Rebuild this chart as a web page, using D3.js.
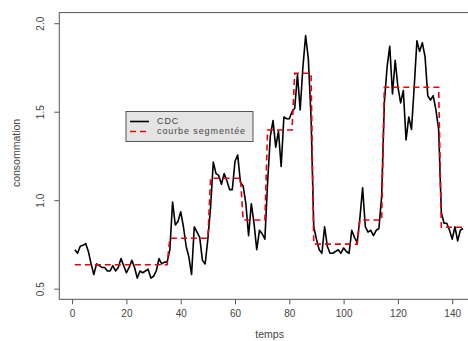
<!DOCTYPE html>
<html>
<head>
<meta charset="utf-8">
<script src="https://cdn.jsdelivr.net/npm/d3@7"></script>
<style>
  html, body { margin: 0; padding: 0; background: #fff; }
  svg { display: block; font-family: "Liberation Sans", Arial, sans-serif; }
</style>
</head>
<body>
<svg id="chart" width="468" height="341"></svg>
<script>
// consommation (CDC), one value per time step, t = 1..144
const cdc = [
  0.72, 0.70, 0.74, 0.745, 0.755, 0.71, 0.64, 0.58, 0.64, 0.63,
  0.62, 0.62, 0.60, 0.60, 0.63, 0.60, 0.62, 0.67, 0.63, 0.59,
  0.62, 0.66, 0.62, 0.56, 0.60, 0.59, 0.60, 0.61, 0.56, 0.57,
  0.60, 0.67, 0.64, 0.65, 0.65, 0.72, 0.99, 0.86, 0.88, 0.935,
  0.85, 0.74, 0.68, 0.58, 0.85, 0.82, 0.79, 0.66, 0.64, 0.78,
  0.96, 1.215, 1.15, 1.14, 1.09, 1.15, 1.11, 1.06, 1.06, 1.22,
  1.255, 1.10, 1.08, 0.98, 0.80, 0.98, 0.87, 0.72, 0.83, 0.81,
  0.78, 1.10, 1.36, 1.45, 1.30, 1.39, 1.19, 1.47, 1.46, 1.46,
  1.50, 1.52, 1.71, 1.51, 1.75, 1.93, 1.80, 1.47, 0.85, 0.78,
  0.72, 0.70, 0.85, 0.74, 0.70, 0.70, 0.71, 0.72, 0.70, 0.73,
  0.71, 0.70, 0.83, 0.79, 0.76, 0.90, 1.07, 0.85, 0.82, 0.83,
  0.80, 0.83, 0.84, 1.02, 1.55, 1.75, 1.87, 1.60, 1.79, 1.64,
  1.55, 1.62, 1.34, 1.47, 1.40, 1.64, 1.90, 1.84, 1.89, 1.81,
  1.59, 1.565, 1.59, 1.51, 1.40, 0.93, 0.87, 0.87, 0.83, 0.78,
  0.85, 0.77, 0.83, 0.84
];

// courbe segmentee: segments (first t, last t, mean level)
const segStart = [1, 36, 51, 63, 72, 82, 89, 106, 115, 136];
const segEnd   = [35, 50, 62, 71, 81, 88, 105, 114, 135, 144];
const segLevel = [0.635, 0.785, 1.124, 0.888, 1.397, 1.717, 0.752, 0.888, 1.638, 0.847];

const xTicks = [0, 20, 40, 60, 80, 100, 120, 140];
const yTicks = [0.5, 1.0, 1.5, 2.0];
const legendLabels = ["CDC", "courbe segmentée"];

const svg = d3.select('#chart');

// plot region (right side runs past the picture edge)
const box = {left: 59.3, right: 478.6, top: 12.6, bottom: 299.3};

const n = cdc.length;
const xPad = (n - 1) * 0.04;
const x = d3.scaleLinear().domain([1 - xPad, n + xPad]).range([box.left, box.right]);
const y = d3.scaleLinear().domain([0.44, 2.06]).range([box.bottom, box.top]);

const axisCol = '#555';
const textCol = '#444';
const font = '"Liberation Sans", Arial, sans-serif';

// frame
svg.append('rect')
  .attr('x', box.left).attr('y', box.top)
  .attr('width', box.right - box.left).attr('height', box.bottom - box.top)
  .attr('fill', 'none').attr('stroke', axisCol).attr('stroke-width', 1);

// x axis
const xAxis = svg.append('g')
  .attr('transform', `translate(0,${box.bottom})`)
  .call(d3.axisBottom(x).tickValues(xTicks).tickSize(5).tickPadding(6).tickFormat(d3.format('d')));
xAxis.select('.domain').remove();
xAxis.selectAll('line').attr('stroke', axisCol);
xAxis.selectAll('text').attr('fill', textCol).style('font-size', '10px').style('font-family', font);

// y axis, labels turned as in R
const yAxis = svg.append('g')
  .attr('transform', `translate(${box.left},0)`)
  .call(d3.axisLeft(y).tickValues(yTicks).tickSize(5).tickFormat(d3.format('.1f')));
yAxis.select('.domain').remove();
yAxis.selectAll('line').attr('stroke', axisCol);
yAxis.selectAll('text')
  .attr('fill', textCol).style('font-size', '10px').style('font-family', font)
  .attr('x', null)
  .attr('text-anchor', 'middle')
  .attr('transform', 'translate(-19,0) rotate(-90)')
  .attr('dy', '0.35em');

// axis titles
svg.append('text')
  .attr('x', (box.left + 468) / 2 + 6).attr('y', 338)
  .attr('text-anchor', 'middle').attr('fill', textCol).style('font-size', '10.5px')
  .text('temps');
svg.append('text')
  .attr('transform', `translate(20,${(box.top + box.bottom) / 2 - 3}) rotate(-90)`)
  .attr('text-anchor', 'middle').attr('fill', textCol).style('font-size', '10.5px')
  .text('consommation');

// segmented curve, expanded to one value per time step
const segPoints = [];
segStart.forEach((s, i) => {
  for (let t = s; t <= segEnd[i]; t++) segPoints.push([t, segLevel[i]]);
});

const line = d3.line().x(d => x(d[0])).y(d => y(d[1]));

svg.append('path')
  .datum(cdc.map((v, i) => [i + 1, v]))
  .attr('d', line)
  .attr('fill', 'none').attr('stroke', '#000').attr('stroke-width', 1.6)
  .attr('stroke-linejoin', 'round');

svg.append('path')
  .datum(segPoints)
  .attr('d', line)
  .attr('fill', 'none').attr('stroke', '#e8000b').attr('stroke-width', 1.6)
  .attr('stroke-dasharray', '6,4');

// legend
const lg = svg.append('g').attr('transform', 'translate(126,111.5)');
lg.append('rect')
  .attr('width', 127).attr('height', 30)
  .attr('fill', '#e4e4e4').attr('stroke', axisCol).attr('stroke-width', 1);
const rows = lg.selectAll('g.row').data(legendLabels).enter().append('g')
  .attr('transform', (d, i) => `translate(0,${10 + i * 10})`);
rows.append('line')
  .attr('x1', 4).attr('x2', 23)
  .attr('stroke', (d, i) => i === 0 ? '#000' : '#e8000b')
  .attr('stroke-width', 1.6)
  .attr('stroke-dasharray', (d, i) => i === 0 ? null : '6,4');
rows.append('text')
  .attr('x', 31).attr('dy', '0.33em')
  .attr('fill', textCol).style('font-size', '9px').style('letter-spacing', '0.9px')
  .text(d => d);
</script>
</body>
</html>
